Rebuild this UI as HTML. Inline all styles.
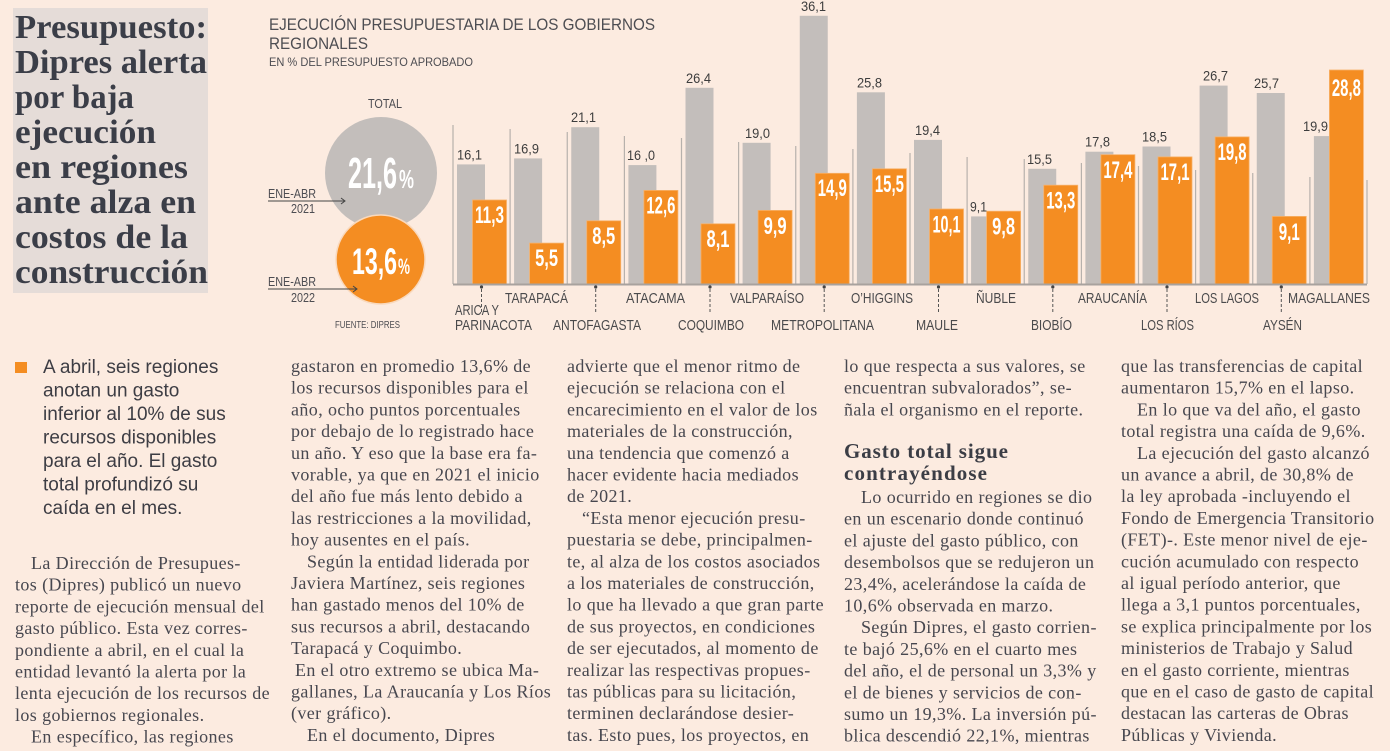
<!DOCTYPE html>
<html><head><meta charset="utf-8"><style>
html,body{margin:0;padding:0;background:#fcebe0;}
svg{display:block;}
.b{font-family:"Liberation Serif",serif;font-size:18px;letter-spacing:0.4px;fill:#47474f;}
.h{font-family:"Liberation Serif",serif;font-weight:bold;font-size:34px;fill:#3b3e48;}
.sh{font-family:"Liberation Serif",serif;font-weight:bold;font-size:21px;fill:#3b3d45;}
.bl{font-family:"Liberation Sans",sans-serif;font-size:19px;fill:#3d3d44;}
.t{font-family:"Liberation Sans",sans-serif;fill:#4d4d52;}
.cat{font-family:"Liberation Sans",sans-serif;font-size:15px;fill:#4a4a4c;}
.gv{font-family:"Liberation Sans",sans-serif;font-size:14px;fill:#3d3d3d;}
.ov{font-family:"Liberation Sans",sans-serif;font-weight:bold;font-size:24px;fill:#fff;text-anchor:middle;}
.cv{font-family:"Liberation Sans",sans-serif;font-weight:bold;fill:#fff;}
</style></head><body>
<svg width="1390" height="751" viewBox="0 0 1390 751" xmlns="http://www.w3.org/2000/svg">
<rect x="0" y="0" width="1390" height="751" fill="#fcebe0"/>
<!-- Headline box -->
<rect x="13" y="8" width="195" height="285" fill="#e5dcd8"/>
<text class="h" x="15" y="38" textLength="192" lengthAdjust="spacingAndGlyphs">Presupuesto:</text>
<text class="h" x="15" y="73" textLength="192" lengthAdjust="spacingAndGlyphs">Dipres alerta</text>
<text class="h" x="15" y="108" textLength="119" lengthAdjust="spacingAndGlyphs">por baja</text>
<text class="h" x="15" y="143" textLength="141" lengthAdjust="spacingAndGlyphs">ejecución</text>
<text class="h" x="15" y="178" textLength="173" lengthAdjust="spacingAndGlyphs">en regiones</text>
<text class="h" x="15" y="213" textLength="181" lengthAdjust="spacingAndGlyphs">ante alza en</text>
<text class="h" x="15" y="248" textLength="173" lengthAdjust="spacingAndGlyphs">costos de la</text>
<text class="h" x="15" y="283" textLength="193" lengthAdjust="spacingAndGlyphs">construcción</text>

<!-- Chart titles -->
<text class="t" x="269" y="30" font-size="17" textLength="386" lengthAdjust="spacingAndGlyphs">EJECUCIÓN PRESUPUESTARIA DE LOS GOBIERNOS</text>
<text class="t" x="269" y="49" font-size="17" textLength="99" lengthAdjust="spacingAndGlyphs">REGIONALES</text>
<text class="t" x="269" y="66" font-size="12" textLength="204" lengthAdjust="spacingAndGlyphs" fill="#3f3f44">EN % DEL PRESUPUESTO APROBADO</text>

<!-- Total circles -->
<text class="t" x="368" y="108" font-size="13" textLength="34" lengthAdjust="spacingAndGlyphs">TOTAL</text>
<circle cx="381" cy="173" r="56" fill="#c3bebb"/>
<circle cx="380.5" cy="259.5" r="44.5" fill="#f48d22" stroke="#f9d9bd" stroke-width="1.5"/>
<text class="cv" x="348" y="188" font-size="44" textLength="49" lengthAdjust="spacingAndGlyphs">21,6</text>
<text class="cv" x="399" y="188" font-size="26" textLength="15" lengthAdjust="spacingAndGlyphs">%</text>
<text class="cv" x="352" y="274" font-size="37" textLength="45" lengthAdjust="spacingAndGlyphs">13,6</text>
<text class="cv" x="398" y="274" font-size="22" textLength="12" lengthAdjust="spacingAndGlyphs">%</text>

<text class="t" x="268" y="198" font-size="13" textLength="48" lengthAdjust="spacingAndGlyphs" fill="#3f3f44">ENE-ABR</text>
<text class="t" x="291" y="213" font-size="13" textLength="24" lengthAdjust="spacingAndGlyphs" fill="#3f3f44">2021</text>
<line x1="268" y1="201" x2="345" y2="201" stroke="#444" stroke-width="1"/>
<polyline points="341,198 345,201 341,204" fill="none" stroke="#444" stroke-width="1"/>
<text class="t" x="268" y="286" font-size="13" textLength="48" lengthAdjust="spacingAndGlyphs" fill="#3f3f44">ENE-ABR</text>
<text class="t" x="291" y="302" font-size="13" textLength="24" lengthAdjust="spacingAndGlyphs" fill="#3f3f44">2022</text>
<line x1="268" y1="289" x2="357" y2="289" stroke="#444" stroke-width="1"/>
<polyline points="353,286 357,289 353,292" fill="none" stroke="#444" stroke-width="1"/>
<text class="t" x="335" y="328" font-size="10" textLength="65" lengthAdjust="spacingAndGlyphs" fill="#3f3f44">FUENTE: DIPRES</text>

<!-- Separators -->
<g stroke="#b7b1ac" stroke-width="1.2">
<line x1="453" y1="125" x2="453" y2="284"/>
<line x1="510.1" y1="129" x2="510.1" y2="284"/>
<line x1="567.25" y1="132" x2="567.25" y2="284"/>
<line x1="624.4" y1="136" x2="624.4" y2="284"/>
<line x1="681.5" y1="138" x2="681.5" y2="284"/>
<line x1="738.6" y1="142" x2="738.6" y2="284"/>
<line x1="795.75" y1="146" x2="795.75" y2="284"/>
<line x1="852.9" y1="149" x2="852.9" y2="284"/>
<line x1="910" y1="153" x2="910" y2="284"/>
<line x1="967.1" y1="157" x2="967.1" y2="284"/>
<line x1="1024.25" y1="159" x2="1024.25" y2="284"/>
<line x1="1081.4" y1="163" x2="1081.4" y2="284"/>
<line x1="1138.5" y1="166" x2="1138.5" y2="284"/>
<line x1="1195.6" y1="170" x2="1195.6" y2="284"/>
<line x1="1252.75" y1="173" x2="1252.75" y2="284"/>
<line x1="1309.9" y1="177" x2="1309.9" y2="284"/>
<line x1="1367" y1="180" x2="1367" y2="284"/>
</g>

<!-- Grey bars -->
<g fill="#c3bebb">
<rect x="457" y="164.4" width="28" height="119.6"/>
<rect x="514.1" y="158.4" width="28" height="125.6"/>
<rect x="571.25" y="127.2" width="28" height="156.8"/>
<rect x="628.4" y="165.1" width="28" height="118.9"/>
<rect x="685.5" y="87.8" width="28" height="196.2"/>
<rect x="742.6" y="142.8" width="28" height="141.2"/>
<rect x="799.75" y="15.8" width="28" height="268.2"/>
<rect x="856.9" y="92.3" width="28" height="191.7"/>
<rect x="914" y="139.9" width="28" height="144.1"/>
<rect x="971.1" y="216.4" width="28" height="67.6"/>
<rect x="1028.25" y="168.8" width="28" height="115.2"/>
<rect x="1085.4" y="151.7" width="28" height="132.3"/>
<rect x="1142.5" y="146.5" width="28" height="137.5"/>
<rect x="1199.6" y="85.6" width="28" height="198.4"/>
<rect x="1256.75" y="93" width="28" height="191"/>
<rect x="1313.9" y="136.1" width="28" height="147.9"/>
</g>
<!-- Orange bars -->
<g fill="#f48d22" stroke="#f7b16a" stroke-width="0.8">
<rect x="472.5" y="200" width="34" height="84"/>
<rect x="529.6" y="243.1" width="34" height="40.9"/>
<rect x="586.75" y="220.8" width="34" height="63.2"/>
<rect x="643.9" y="190.4" width="34" height="93.6"/>
<rect x="701" y="223.8" width="34" height="60.2"/>
<rect x="758.1" y="210.4" width="34" height="73.6"/>
<rect x="815.25" y="173.3" width="34" height="110.7"/>
<rect x="872.4" y="168.8" width="34" height="115.2"/>
<rect x="929.5" y="209" width="34" height="75"/>
<rect x="986.6" y="211.2" width="34" height="72.8"/>
<rect x="1043.75" y="185.2" width="34" height="98.8"/>
<rect x="1100.9" y="154.7" width="34" height="129.3"/>
<rect x="1158" y="156.9" width="34" height="127.1"/>
<rect x="1215.1" y="136.9" width="34" height="147.1"/>
<rect x="1272.25" y="216.4" width="34" height="67.6"/>
<rect x="1329.4" y="70" width="34" height="214"/>
</g>
<line x1="453" y1="284.5" x2="1367" y2="284.5" stroke="#a8a29e" stroke-width="2"/>

<!-- Grey value labels -->
<g class="gv">
<text x="457" y="159.4" textLength="25" lengthAdjust="spacingAndGlyphs">16,1</text>
<text x="514" y="153.4" textLength="25" lengthAdjust="spacingAndGlyphs">16,9</text>
<text x="571" y="122.2" textLength="25" lengthAdjust="spacingAndGlyphs">21,1</text>
<text x="627" y="160.1" textLength="28" lengthAdjust="spacingAndGlyphs">16 ,0</text>
<text x="686" y="82.8" textLength="25" lengthAdjust="spacingAndGlyphs">26,4</text>
<text x="745" y="137.8" textLength="25" lengthAdjust="spacingAndGlyphs">19,0</text>
<text x="801" y="10.8" textLength="25" lengthAdjust="spacingAndGlyphs">36,1</text>
<text x="857" y="87.3" textLength="25" lengthAdjust="spacingAndGlyphs">25,8</text>
<text x="915" y="134.9" textLength="25" lengthAdjust="spacingAndGlyphs">19,4</text>
<text x="970" y="211.4" textLength="17" lengthAdjust="spacingAndGlyphs">9,1</text>
<text x="1027" y="163.8" textLength="25" lengthAdjust="spacingAndGlyphs">15,5</text>
<text x="1085" y="146.7" textLength="25" lengthAdjust="spacingAndGlyphs">17,8</text>
<text x="1142" y="141.5" textLength="25" lengthAdjust="spacingAndGlyphs">18,5</text>
<text x="1203" y="80.6" textLength="25" lengthAdjust="spacingAndGlyphs">26,7</text>
<text x="1254" y="88" textLength="25" lengthAdjust="spacingAndGlyphs">25,7</text>
<text x="1303" y="131.1" textLength="25" lengthAdjust="spacingAndGlyphs">19,9</text>
</g>
<!-- Orange value labels -->
<g class="ov">
<text x="489.5" y="223" textLength="29" lengthAdjust="spacingAndGlyphs">11,3</text>
<text x="546.6" y="266" textLength="23" lengthAdjust="spacingAndGlyphs">5,5</text>
<text x="603.75" y="244" textLength="23" lengthAdjust="spacingAndGlyphs">8,5</text>
<text x="660.9" y="213.5" textLength="29" lengthAdjust="spacingAndGlyphs">12,6</text>
<text x="718" y="247" textLength="23" lengthAdjust="spacingAndGlyphs">8,1</text>
<text x="775.1" y="234" textLength="23" lengthAdjust="spacingAndGlyphs">9,9</text>
<text x="832.25" y="196" textLength="29" lengthAdjust="spacingAndGlyphs">14,9</text>
<text x="889.4" y="192" textLength="29" lengthAdjust="spacingAndGlyphs">15,5</text>
<text x="946.5" y="232.5" textLength="28" lengthAdjust="spacingAndGlyphs">10,1</text>
<text x="1003.6" y="234.5" textLength="23" lengthAdjust="spacingAndGlyphs">9,8</text>
<text x="1060.75" y="208.5" textLength="29" lengthAdjust="spacingAndGlyphs">13,3</text>
<text x="1117.9" y="178" textLength="29" lengthAdjust="spacingAndGlyphs">17,4</text>
<text x="1175" y="180" textLength="29" lengthAdjust="spacingAndGlyphs">17,1</text>
<text x="1232.1" y="160" textLength="29" lengthAdjust="spacingAndGlyphs">19,8</text>
<text x="1289.25" y="240" textLength="21" lengthAdjust="spacingAndGlyphs">9,1</text>
<text x="1346.4" y="96" textLength="29" lengthAdjust="spacingAndGlyphs">28,8</text>
</g>

<!-- Leaders -->
<g stroke="#555" stroke-width="1" stroke-dasharray="3,2">
<line x1="481.5" y1="289" x2="481.5" y2="312"/>
<line x1="595.7" y1="289" x2="595.7" y2="312"/>
<line x1="710" y1="289" x2="710" y2="312"/>
<line x1="824.2" y1="289" x2="824.2" y2="312"/>
<line x1="938.5" y1="289" x2="938.5" y2="312"/>
<line x1="1052.8" y1="289" x2="1052.8" y2="312"/>
<line x1="1167" y1="289" x2="1167" y2="312"/>
<line x1="1281.3" y1="289" x2="1281.3" y2="312"/>
</g>
<g fill="#444">
<circle cx="481.5" cy="287" r="1.6"/><circle cx="595.7" cy="287" r="1.6"/>
<circle cx="710" cy="287" r="1.6"/><circle cx="824.2" cy="287" r="1.6"/>
<circle cx="938.5" cy="287" r="1.6"/><circle cx="1052.8" cy="287" r="1.6"/>
<circle cx="1167" cy="287" r="1.6"/><circle cx="1281.3" cy="287" r="1.6"/>
</g>

<!-- Category labels -->
<g class="cat">
<text x="455" y="315" textLength="44" lengthAdjust="spacingAndGlyphs">ARICA Y</text>
<text x="455" y="330" textLength="77" lengthAdjust="spacingAndGlyphs">PARINACOTA</text>
<text x="505" y="303" textLength="63" lengthAdjust="spacingAndGlyphs">TARAPACÁ</text>
<text x="553" y="330" textLength="88" lengthAdjust="spacingAndGlyphs">ANTOFAGASTA</text>
<text x="626" y="303" textLength="59" lengthAdjust="spacingAndGlyphs">ATACAMA</text>
<text x="678" y="330" textLength="66" lengthAdjust="spacingAndGlyphs">COQUIMBO</text>
<text x="730" y="303" textLength="74" lengthAdjust="spacingAndGlyphs">VALPARAÍSO</text>
<text x="771" y="330" textLength="103" lengthAdjust="spacingAndGlyphs">METROPOLITANA</text>
<text x="851" y="303" textLength="62" lengthAdjust="spacingAndGlyphs">O’HIGGINS</text>
<text x="916" y="330" textLength="42" lengthAdjust="spacingAndGlyphs">MAULE</text>
<text x="976" y="303" textLength="40" lengthAdjust="spacingAndGlyphs">ÑUBLE</text>
<text x="1031" y="330" textLength="41" lengthAdjust="spacingAndGlyphs">BIOBÍO</text>
<text x="1078" y="303" textLength="69" lengthAdjust="spacingAndGlyphs">ARAUCANÍA</text>
<text x="1141" y="330" textLength="53" lengthAdjust="spacingAndGlyphs">LOS RÍOS</text>
<text x="1195" y="303" textLength="64" lengthAdjust="spacingAndGlyphs">LOS LAGOS</text>
<text x="1263" y="330" textLength="39" lengthAdjust="spacingAndGlyphs">AYSÉN</text>
<text x="1288" y="303" textLength="82" lengthAdjust="spacingAndGlyphs">MAGALLANES</text>
</g>

<!-- Bullet -->
<rect x="15" y="362" width="12" height="11" fill="#f48d22"/>
<text class="bl">
<tspan x="43" y="373">A abril, seis regiones</tspan>
<tspan x="43" y="396.5">anotan un gasto</tspan>
<tspan x="43" y="420">inferior al 10% de sus</tspan>
<tspan x="43" y="443.5">recursos disponibles</tspan>
<tspan x="43" y="467">para el año. El gasto</tspan>
<tspan x="43" y="490.5">total profundizó su</tspan>
<tspan x="43" y="514">caída en el mes.</tspan>
</text>

<!-- Column 1 -->
<text class="b">
<tspan x="31" y="569">La Dirección de Presupues-</tspan>
<tspan x="15" y="590.7">tos (Dipres) publicó un nuevo</tspan>
<tspan x="15" y="612.4">reporte de ejecución mensual del</tspan>
<tspan x="15" y="634.1">gasto público. Esta vez corres-</tspan>
<tspan x="15" y="655.8">pondiente a abril, en el cual la</tspan>
<tspan x="15" y="677.5">entidad levantó la alerta por la</tspan>
<tspan x="15" y="699.2">lenta ejecución de los recursos de</tspan>
<tspan x="15" y="720.9">los gobiernos regionales.</tspan>
<tspan x="31" y="742.6">En específico, las regiones</tspan>
</text>

<!-- Column 2 -->
<text class="b">
<tspan x="291" y="372">gastaron en promedio 13,6% de</tspan>
<tspan x="291" y="393.7">los recursos disponibles para el</tspan>
<tspan x="291" y="415.4">año, ocho puntos porcentuales</tspan>
<tspan x="291" y="437.1">por debajo de lo registrado hace</tspan>
<tspan x="291" y="458.8">un año. Y eso que la base era fa-</tspan>
<tspan x="291" y="480.5">vorable, ya que en 2021 el inicio</tspan>
<tspan x="291" y="502.2">del año fue más lento debido a</tspan>
<tspan x="291" y="523.9">las restricciones a la movilidad,</tspan>
<tspan x="291" y="545.6">hoy ausentes en el país.</tspan>
<tspan x="307" y="567.3">Según la entidad liderada por</tspan>
<tspan x="291" y="589">Javiera Martínez, seis regiones</tspan>
<tspan x="291" y="610.7">han gastado menos del 10% de</tspan>
<tspan x="291" y="632.4">sus recursos a abril, destacando</tspan>
<tspan x="291" y="654.1">Tarapacá y Coquimbo.</tspan>
<tspan x="295" y="675.8">En el otro extremo se ubica Ma-</tspan>
<tspan x="291" y="697.5">gallanes, La Araucanía y Los Ríos</tspan>
<tspan x="291" y="719.2">(ver gráfico).</tspan>
<tspan x="307" y="740.9">En el documento, Dipres</tspan>
</text>

<!-- Column 3 -->
<text class="b">
<tspan x="567" y="372">advierte que el menor ritmo de</tspan>
<tspan x="567" y="393.7">ejecución se relaciona con el</tspan>
<tspan x="567" y="415.4">encarecimiento en el valor de los</tspan>
<tspan x="567" y="437.1">materiales de la construcción,</tspan>
<tspan x="567" y="458.8">una tendencia que comenzó a</tspan>
<tspan x="567" y="480.5">hacer evidente hacia mediados</tspan>
<tspan x="567" y="502.2">de 2021.</tspan>
<tspan x="582" y="523.9">“Esta menor ejecución presu-</tspan>
<tspan x="567" y="545.6">puestaria se debe, principalmen-</tspan>
<tspan x="567" y="567.3">te, al alza de los costos asociados</tspan>
<tspan x="567" y="589">a los materiales de construcción,</tspan>
<tspan x="567" y="610.7">lo que ha llevado a que gran parte</tspan>
<tspan x="567" y="632.4">de sus proyectos, en condiciones</tspan>
<tspan x="567" y="654.1">de ser ejecutados, al momento de</tspan>
<tspan x="567" y="675.8">realizar las respectivas propues-</tspan>
<tspan x="567" y="697.5">tas públicas para su licitación,</tspan>
<tspan x="567" y="719.2">terminen declarándose desier-</tspan>
<tspan x="567" y="740.9">tas. Esto pues, los proyectos, en</tspan>
</text>

<!-- Column 4 -->
<text class="b">
<tspan x="844" y="372">lo que respecta a sus valores, se</tspan>
<tspan x="844" y="393.7">encuentran subvalorados”, se-</tspan>
<tspan x="844" y="415.4">ñala el organismo en el reporte.</tspan>
</text>
<text class="sh" x="844" y="458" textLength="164">Gasto total sigue</text>
<text class="sh" x="844" y="480" textLength="143">contrayéndose</text>
<text class="b">
<tspan x="861" y="503">Lo ocurrido en regiones se dio</tspan>
<tspan x="844" y="524.7">en un escenario donde continuó</tspan>
<tspan x="844" y="546.4">el ajuste del gasto público, con</tspan>
<tspan x="844" y="568.1">desembolsos que se redujeron un</tspan>
<tspan x="844" y="589.8">23,4%, acelerándose la caída de</tspan>
<tspan x="844" y="611.5">10,6% observada en marzo.</tspan>
<tspan x="861" y="633.2">Según Dipres, el gasto corrien-</tspan>
<tspan x="844" y="654.9">te bajó 25,6% en el cuarto mes</tspan>
<tspan x="844" y="676.6">del año, el de personal un 3,3% y</tspan>
<tspan x="844" y="698.3">el de bienes y servicios de con-</tspan>
<tspan x="844" y="720">sumo un 19,3%. La inversión pú-</tspan>
<tspan x="844" y="741.7">blica descendió 22,1%, mientras</tspan>
</text>

<!-- Column 5 -->
<text class="b">
<tspan x="1121" y="372">que las transferencias de capital</tspan>
<tspan x="1121" y="393.7">aumentaron 15,7% en el lapso.</tspan>
<tspan x="1137" y="415.4">En lo que va del año, el gasto</tspan>
<tspan x="1121" y="437.1">total registra una caída de 9,6%.</tspan>
<tspan x="1137" y="458.8">La ejecución del gasto alcanzó</tspan>
<tspan x="1121" y="480.5">un avance a abril, de 30,8% de</tspan>
<tspan x="1121" y="502.2">la ley aprobada -incluyendo el</tspan>
<tspan x="1121" y="523.9">Fondo de Emergencia Transitorio</tspan>
<tspan x="1121" y="545.6">(FET)-.  Este menor nivel de eje-</tspan>
<tspan x="1121" y="567.3">cución acumulado con respecto</tspan>
<tspan x="1121" y="589">al igual período anterior, que</tspan>
<tspan x="1121" y="610.7">llega a 3,1 puntos porcentuales,</tspan>
<tspan x="1121" y="632.4">se explica principalmente por los</tspan>
<tspan x="1121" y="654.1">ministerios de Trabajo y Salud</tspan>
<tspan x="1121" y="675.8">en el gasto corriente, mientras</tspan>
<tspan x="1121" y="697.5">que en el caso de gasto de capital</tspan>
<tspan x="1121" y="719.2">destacan las carteras de Obras</tspan>
<tspan x="1121" y="740.9">Públicas y Vivienda.</tspan>
</text>
</svg>
</body></html>
